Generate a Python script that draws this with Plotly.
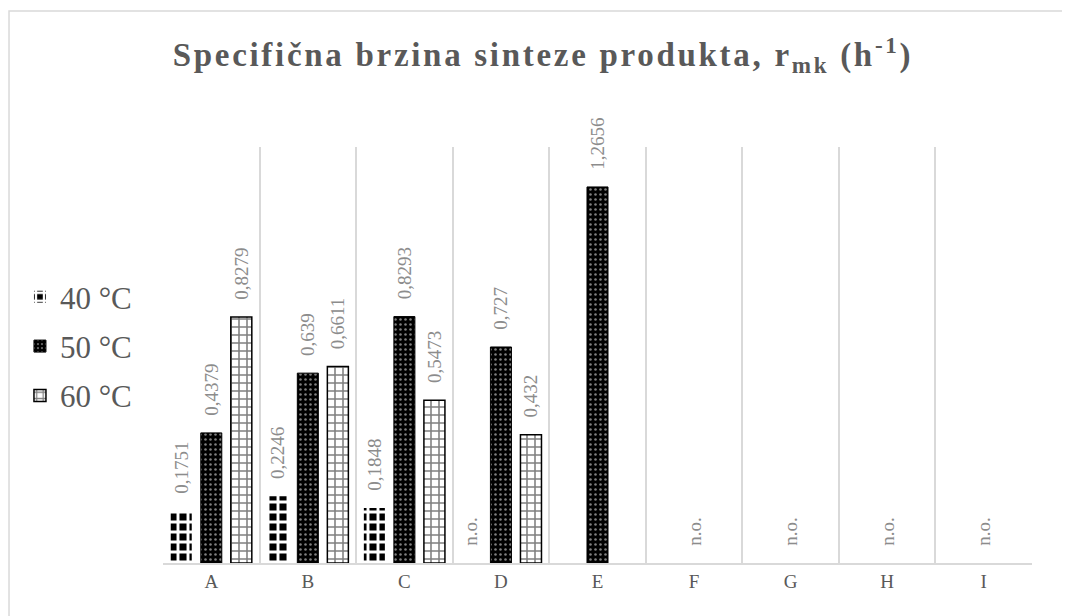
import plotly.graph_objects as go

kategorije = ["A", "B", "C", "D", "E", "F", "G", "H", "I"]
serije = ["40 °C", "50 °C", "60 °C"]

# None = nema stupca, 0 = "n.o." (nije određeno)
r_40 = [0.1751, 0.2246, 0.1848, 0, None, None, None, None, None]
r_50 = [0.4379, 0.639, 0.8293, 0.727, 1.2656, 0, 0, 0, 0]
r_60 = [0.8279, 0.6611, 0.5473, 0.432, None, None, None, None, None]

SIVA = "#595959"
SIVA_OZN = "#8c8c8c"
MREZA = "#d9d9d9"
FONT = "Liberation Serif, Times New Roman, serif"

uzorci = [
    dict(shape="+", fgcolor="white", bgcolor="black", size=10, solidity=0.5,
         fgopacity=1),
    dict(shape=".", fgcolor="white", bgcolor="black", size=5, solidity=0.2),
    dict(shape="+", fgcolor="black", bgcolor="white", size=8, solidity=0.35),
]
rubovi = [0, 1, 1.5]


def oznaka(v):
    """Tekst iznad stupca, decimalni zarez; 0 znaci n.o."""
    if v is None:
        return ""
    if v == 0:
        return "\u00a0\u00a0\u00a0n.o."
    return "\u00a0\u00a0\u00a0" + str(v).replace(".", ",")


fig = go.Figure()
for i, (ime, vrijednosti) in enumerate(zip(serije, [r_40, r_50, r_60])):
    fig.add_trace(go.Bar(
        name=ime,
        x=kategorije,
        y=vrijednosti,
        text=[oznaka(v) for v in vrijednosti],
        textposition="outside",
        textangle=-90,
        constraintext="none",
        cliponaxis=False,
        textfont=dict(family=FONT, size=19, color=SIVA_OZN),
        marker=dict(
            color="black",
            pattern=uzorci[i],
            line=dict(color="black",
                      width=[rubovi[i] if v else 0 for v in vrijednosti]),
        ),
        legendgroup=ime,
    ))

naslov = ('<span style="letter-spacing:2.7px">Specifična brzina sinteze produkta, '
          'r<sub>mk</sub> (h<sup>-1</sup>)</span>')

fig.update_layout(
    width=1070, height=616,
    margin=dict(l=155, r=46, t=139, b=61, autoexpand=False),
    paper_bgcolor="white", plot_bgcolor="white",
    barmode="group", bargap=0.067, bargroupgap=0.3,
    title=dict(
        text=naslov,
        x=0.5, xref="container", xanchor="center",
        y=0.924, yref="container", yanchor="middle",
        font=dict(family=FONT, size=33, color=SIVA, weight="bold"),
    ),
    legend=dict(
        x=-0.1646, xanchor="left", y=0.704, yanchor="top",
        font=dict(family=FONT, size=31, color=SIVA),
        tracegroupgap=6, bgcolor="rgba(0,0,0,0)",
    ),
    xaxis=dict(
        tickson="boundaries", showgrid=True, gridcolor=MREZA, gridwidth=1.5,
        showline=True, linecolor=MREZA, linewidth=1.5, ticks="",
        tickfont=dict(family=FONT, size=19, color=SIVA),
    ),
    yaxis=dict(range=[0, 1.4], visible=False),
    shapes=[dict(
        type="rect", xref="paper", yref="paper",
        x0=-0.1772, x1=1.07, y0=-0.2, y1=1.327,
        line=dict(color=MREZA, width=1.5), layer="below",
    )],
)

fig.write_html("out.html")
